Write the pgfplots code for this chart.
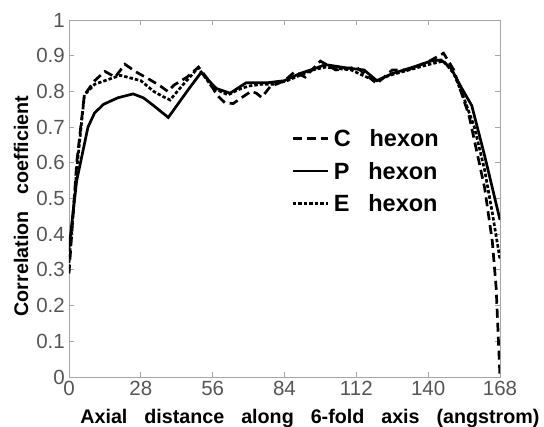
\documentclass[border=0pt]{standalone}
\usepackage{fontspec}
\setmainfont{Liberation Sans}
\usepackage{pgfplots}
\pgfplotsset{compat=1.18}

\definecolor{axgray}{RGB}{165,165,165}
\definecolor{labgray}{RGB}{85,85,85}

\begin{document}
\begin{tikzpicture}
\begin{axis}[
  scale only axis, width=431pt, height=357pt,
  xmin=0, xmax=168, ymin=0, ymax=1,
  xtick={0,28,56,84,112,140,168},
  ytick={0,0.1,0.2,0.3,0.4,0.5,0.6,0.7,0.8,0.9,1},
  yticklabels={0,0.1,0.2,0.3,0.4,0.5,0.6,0.7,0.8,0.9,1},
  axis line style={axgray, line width=0.9pt},
  tick style={axgray, line width=0.9pt},
  major tick length=5pt,
  tick align=inside,
  /pgf/number format/assume math mode=true,
  tick label style={font=\fontsize{20.5}{22}\selectfont, text=labgray, inner sep=0pt},
  xticklabel style={yshift=-4pt},
  yticklabel style={xshift=-4pt},
  xlabel={\textbf{Axial\hspace{0.86em}distance\hspace{0.86em}along\hspace{0.86em}6-fold\hspace{0.86em}axis\hspace{0.86em}(angstrom)}},
  ylabel={\textbf{Correlation\hspace{0.86em}coefficient}},
  label style={font=\fontsize{19.7}{22}\selectfont},
  xlabel style={at={(axis description cs:0.559,-0.1289)}, anchor=base},
  ylabel style={at={(axis description cs:-0.0951,0.479)}, anchor=base, rotate=0},
  legend style={draw=none, fill=none, inner sep=0pt,
    at={(0.515,0.692)}, anchor=north west,
    font=\fontsize{23.5}{25}\selectfont\bfseries,
    nodes={inner sep=0pt, text height=16.8pt, text depth=0pt},
    row sep=15.7pt,
    /tikz/every odd column/.append style={column sep=5pt}},
  legend cell align=left,
  legend image code/.code={\draw[#1] (0pt,0pt) -- (35pt,0pt);},
]
\addplot[black, line width=2.7pt, dash pattern=on 9pt off 5pt] coordinates {
 (0,0.29) (3,0.60) (6,0.79) (10,0.83) (14,0.856) (18,0.84) (21.8,0.876)
 (26,0.855) (31,0.835) (35,0.818) (38.5,0.80) (41,0.818) (46,0.84) (50.5,0.868)
 (54,0.835) (57.6,0.79) (60.8,0.768) (64,0.766) (67.8,0.785) (71,0.80) (73,0.795)
 (75.1,0.783) (78.4,0.813) (84,0.83) (88,0.855) (92,0.84) (98,0.885) (104,0.86)
 (112,0.868) (116,0.845) (120,0.822) (126,0.86) (132,0.86) (140,0.883)
 (146,0.907) (150,0.86) (156,0.73) (162,0.53) (165,0.38) (166.5,0.25)
 (168,0.0)};
\addlegendentry{C\hspace{0.8em}hexon}
\addplot[black, line width=2.7pt] coordinates {
 (0,0.36) (3,0.55) (7.4,0.70) (10,0.74) (13.5,0.764) (19,0.782) (25,0.793)
 (29,0.782) (33,0.76) (38.7,0.727) (42,0.76) (47,0.81) (51.5,0.853)
 (54.5,0.83) (57.5,0.808) (62.8,0.795) (69,0.824) (77,0.824) (84,0.83)
 (90,0.85) (95,0.862) (100,0.875) (108,0.866) (115,0.86) (120,0.83)
 (126,0.85) (135,0.87) (141,0.885) (145,0.888) (148.8,0.866) (153,0.81)
 (157,0.76) (162,0.62) (168,0.44)};
\addlegendentry{P\hspace{0.8em}hexon}
\addplot[black, line width=2.7pt, dash pattern=on 3.5pt off 2pt] coordinates {
 (0,0.32) (3,0.58) (6,0.79) (10,0.82) (14,0.83) (20,0.845) (28,0.83)
 (33,0.80) (36.5,0.786) (39.4,0.776) (44,0.815) (50.3,0.866) (53,0.84)
 (56,0.81) (62,0.79) (66,0.805) (70,0.815) (75,0.82) (80,0.82) (85,0.83)
 (90,0.845) (95,0.86) (100,0.868) (110,0.86) (116,0.84) (120,0.83)
 (125,0.845) (130,0.855) (140,0.875) (146,0.885) (150,0.85) (154,0.78)
 (158,0.70) (162,0.58) (165,0.46) (168,0.33)};
\addlegendentry{E\hspace{0.8em}hexon}
\end{axis}
\pgfresetboundingbox
\useasboundingbox ([xshift=-69pt,yshift=-50pt]current axis.south west)
  rectangle ([xshift=44pt,yshift=20pt]current axis.north east);
\end{tikzpicture}
\end{document}
